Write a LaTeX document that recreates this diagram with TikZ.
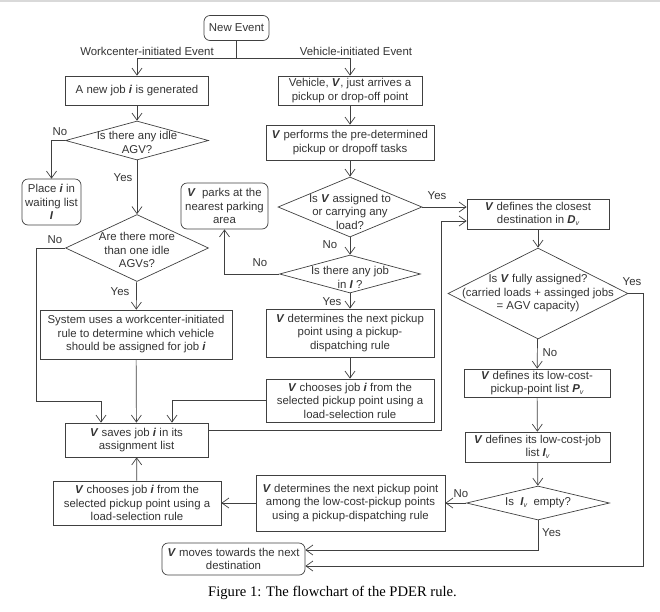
\documentclass[tikz,border=0pt]{standalone}
\usepackage{fontspec}
\setmainfont{Liberation Sans}
\newfontfamily\capfont{Liberation Serif}
\usetikzlibrary{shapes.geometric, positioning, calc, arrows.meta}

\newcommand{\bv}[1]{\textbf{\textit{#1}}}
\newcommand{\sbv}{\raisebox{-0.35ex}{\scriptsize\itshape v}}
\newcommand{\dtext}[2][0pt]{\makebox[0pt]{\raisebox{0pt}[\dimexpr\height+#1\relax][\depth]{\begin{tabular}{@{}c@{}}#2\end{tabular}}}}

\begin{document}
\begin{tikzpicture}[x=1pt, y=-1pt,
	every node/.style={font=\fontsize{11.4}{13.5}\selectfont, text=black!80},
	line/.style={draw=black!75, line width=0.7pt},
	arr/.style={line, -{Straight Barb[length=7pt,width=10pt]}},
	box/.style={rectangle, line, inner sep=0pt, align=center},
	rbox/.style={box, rounded corners=6pt},
	decision/.style={diamond, line, inner sep=0pt, aspect=1}]

	%//frame of the page
	\useasboundingbox (0,0) rectangle (660,611);
	\fill[black!15] (0,0) rectangle (660,2);

	%//left column
	\node[rbox, minimum width=65, minimum height=25] (new) at (236.5,28) {New Event};
	\node[box, minimum width=143, minimum height=29] (newjob) at (137,90.5) {A new job \bv{i} is generated};
	\node[decision, minimum width=143, minimum height=39] (idle) at (137,140.5) {\dtext[7pt]{Is there any idle\\AGV?}};
	\node[rbox, minimum width=59, minimum height=46] (wait) at (51.5,202) {Place \bv{i} in\\waiting list\\\bv{I}};
	\node[decision, minimum width=143, minimum height=67] (more) at (137,248) {\dtext[7pt]{Are there more\\than one idle\\AGVs?}};
	\node[box, minimum width=192, minimum height=49] (system) at (136,334.5) {System uses a workcenter-initiated\\rule to determine which vehicle\\should be assigned for job \bv{i}};
	\node[box, minimum width=143, minimum height=34] (saves) at (136.5,440) {\bv{V} saves job \bv{i} in its\\assignment list};
	\node[box, minimum width=168, minimum height=44] (chooseB) at (137,503) {\bv{V} chooses job \bv{i} from the\\selected pickup point using a\\load-selection rule};
	\node[rbox, minimum width=143, minimum height=32] (moves) at (233.5,559) {\bv{V} moves towards the next\\destination};
	\node[rbox, minimum width=87, minimum height=46] (park) at (224.5,206) {\bv{V}\ \ parks at the\\nearest parking\\area};

	%//middle column
	\node[box, minimum width=144, minimum height=29] (arrive) at (350,90.5) {Vehicle, \bv{V}, just arrives a\\pickup or drop-off point};
	\node[box, minimum width=168, minimum height=35] (perform) at (350,142.5) {\bv{V} performs the pre-determined\\pickup or dropoff tasks};
	\node[decision, minimum width=144, minimum height=60] (assigned) at (350,207) {\dtext[12pt]{Is \bv{V} assigned to\\or carrying any\\load?}};
	\node[decision, minimum width=141, minimum height=38] (jobI) at (350,274) {\dtext[10pt]{Is there any job\\in \bv{I} ?}};
	\node[box, minimum width=168, minimum height=48] (detA) at (350,333) {\bv{V} determines the next pickup\\point using a pickup-\\dispatching rule};
	\node[box, minimum width=168, minimum height=43] (chooseA) at (350,400.5) {\bv{V} chooses job \bv{i} from the\\selected pickup point using a\\load-selection rule};
	\node[box, minimum width=189, minimum height=56] (nextpt) at (350.5,503) {\bv{V} determines the next pickup point\\among the low-cost-pickup points\\using a pickup-dispatching rule};

	%//right column
	\node[box, minimum width=142, minimum height=30] (closest) at (538,214) {\bv{V} defines the closest\\destination in \bv{D}\sbv};
	\node[decision, minimum width=180, minimum height=91] (full) at (538,293.5) {\dtext{Is \bv{V} fully assigned?\\(carried loads + assinged jobs\\= AGV capacity)}};
	\node[box, minimum width=146, minimum height=28] (lowpt) at (537,383) {\bv{V} defines its low-cost-\\pickup-point list \bv{P}\sbv};
	\node[box, minimum width=145, minimum height=30] (lowjob) at (537.5,447) {\bv{V} defines its low-cost-job\\list \bv{I}\sbv};
	\node[decision, minimum width=143, minimum height=34] (empty) at (538,503) {\dtext{Is\ \ \bv{I}\sbv\ \ empty?}};

	%//branch points
	\coordinate (split) at (236.5,58);
	\coordinate (c1) at (36,401.7);
	\coordinate (loop) at (441.5,430);
	\coordinate (rt) at (643,293.5);

	%//connectors
	\draw[line] (new) -- (split);
	\draw[arr] (split) -| (newjob.north);
	\draw[arr] (split) -| (arrive.north);
	\draw[arr] (newjob) -- (idle);
	\draw[arr] (idle.west) -| (wait.north);
	\draw[arr] (idle) -- (more);
	\draw[arr] (more) -- (system);
	\draw[arr] (more.west) -| (c1) -| ([xshift=-35.5pt]saves.north);
	\draw[arr] (system) -- (saves);
	\draw[arr] (chooseA.west) -| ([xshift=35.5pt]saves.north);
	\draw[arr] (chooseB) -- (saves);
	\draw[arr] (nextpt) -- (chooseB);
	\draw[arr] (arrive) -- (perform);
	\draw[arr] (perform) -- (assigned);
	\draw[arr] (assigned) -- (jobI);
	\draw[arr] (assigned.east) -- (assigned.east -| closest.west);
	\draw[arr] (jobI.west) -| (park.south);
	\draw[arr] (jobI) -- (detA);
	\draw[arr] (detA) -- (chooseA);
	\draw[arr] ([yshift=10pt]saves.east) -- (loop) |- ([yshift=-7pt]closest.west);
	\draw[arr] (closest) -- (full);
	\draw[arr] (full) -- (lowpt);
	\draw[arr] (lowpt) -- (lowjob);
	\draw[arr] (lowjob) -- (empty);
	\draw[arr] (empty) -- (nextpt);
	\draw[arr] (empty.south) |- ([yshift=9pt]moves.east);
	\draw[arr] (full.east) -- (rt) |- ([yshift=-7pt]moves.east);

	%//labels
	\node (evW) at (147,51) {Workcenter-initiated Event};
	\node (evV) at (356,51) {Vehicle-initiated Event};
	\foreach \n/\x/\y/\t in {1/60/132/No, 2/123/178/Yes, 3/55/240/No, 4/120/292/Yes,
		5/437/196/Yes, 6/330/245/No, 7/260/263/No, 8/332/301.5/Yes,
		9/632/282/Yes, 10/550/352.5/No, 11/461/494/No, 12/551.5/533/Yes}
	\node (lbl\n) at (\x,\y) {\t};

	\node[font=\capfont\fontsize{14.6}{16}\selectfont, text=black] (caption) at (332.5,592.5) {Figure 1: The flowchart of the PDER rule.};
\end{tikzpicture}
\end{document}
